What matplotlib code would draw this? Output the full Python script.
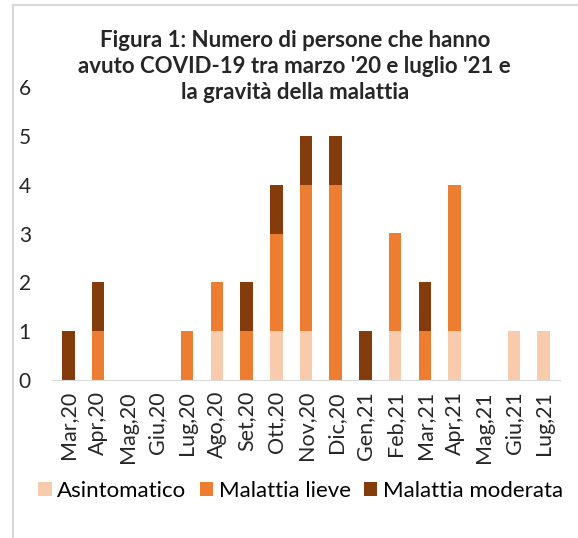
import matplotlib.pyplot as plt
import numpy as np
from matplotlib.patches import Rectangle

months = ["Mar,20", "Apr,20", "Mag,20", "Giu,20", "Lug,20", "Ago,20", "Set,20", "Ott,20", "Nov,20",
          "Dic,20", "Gen,21", "Feb,21", "Mar,21", "Apr,21", "Mag,21", "Giu,21", "Lug,21"]
asintomatico = [0, 0, 0, 0, 0, 1, 0, 1, 1, 0, 0, 1, 0, 1, 0, 1, 1]
lieve = [0, 1, 0, 0, 1, 1, 1, 2, 3, 4, 0, 2, 1, 3, 0, 0, 0]
moderata = [1, 1, 0, 0, 0, 0, 1, 1, 1, 1, 1, 0, 1, 0, 0, 0, 0]

plt.rcParams['font.family'] = ['Lato', 'DejaVu Sans']

fig = plt.figure(figsize=(5.78, 5.38), dpi=100)
# light grey frame round the chart, like the excel chart area
fig.patches.append(Rectangle((13/578, -0.01), 1.0, 1.0 - 5/538 + 0.01, transform=fig.transFigure,
                             fill=False, edgecolor='#d9d9d9', linewidth=1.5))
ax = fig.add_axes([52/578, 158/538, 508/578, 293/538])

x = np.arange(len(months))
a = np.array(asintomatico)
l = np.array(lieve)
m = np.array(moderata)
w = 0.42
ax.bar(x, a, w, color='#F8CBAD', label='Asintomatico')
ax.bar(x, l, w, bottom=a, color='#ED7D31', label='Malattia lieve')
ax.bar(x, m, w, bottom=a+l, color='#843C0C', label='Malattia moderata')

ax.set_ylim(0, 6)
ax.set_xlim(-0.55, len(months) - 0.45)
ax.set_yticks(range(7))
ax.set_xticks(x)
ax.set_xticklabels(months, rotation=90, fontsize=15.5, color='#262626')
ax.tick_params(axis='y', labelsize=15, labelcolor='#262626', length=0, pad=24)
ax.tick_params(axis='x', length=0, pad=8)
for s in ['top', 'right', 'left']:
    ax.spines[s].set_visible(False)
ax.spines['bottom'].set_color('#d9d9d9')
for t in ax.get_yticklabels():
    t.set_horizontalalignment('left')

fig.text(0.51, 0.945, "Figura 1: Numero di persone che hanno\navuto COVID-19 tra marzo '20 e luglio '21 e\nla gravità della malattia",
         ha='center', va='top', fontsize=16, fontweight='bold', color='#262626', linespacing=1.32)

fig.legend(loc='center', bbox_to_anchor=(0.52, 0.087), ncol=3, frameon=False, fontsize=16,
           handlelength=0.6, handleheight=0.6, handletextpad=0.25, columnspacing=0.6)

fig.savefig('out.png', dpi=100)
